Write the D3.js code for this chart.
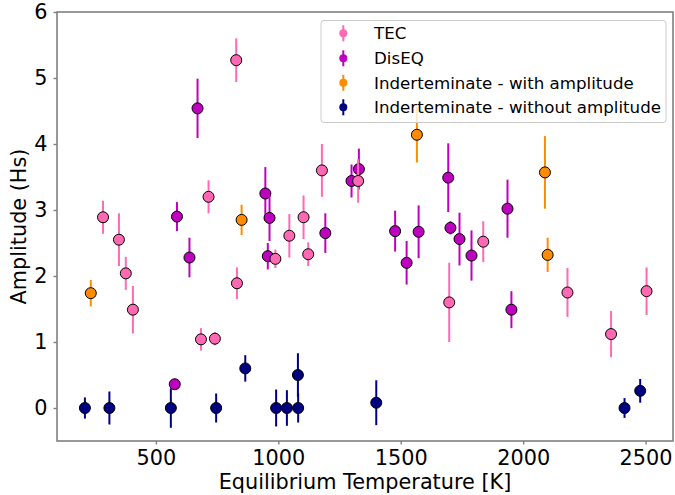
<!DOCTYPE html>
<html><head><meta charset="utf-8">
<script src="https://cdn.jsdelivr.net/npm/d3@7"></script>
<style>body{margin:0;background:#fff}svg{display:block;font-family:"DejaVu Sans",sans-serif}</style>
</head><body>
<svg id="c" width="675" height="495"></svg>
<script>
// TEC
const tecTemp = [284, 349, 377, 406, 684, 741, 831, 828, 715, 1045, 1103, 988, 1122, 1178, 1326, 1837, 1698, 2181, 2359, 2504];
const tecAmp  = [2.89, 2.55, 2.04, 1.49, 1.04, 1.05, 1.89, 5.27, 3.20, 2.61, 2.89, 2.26, 2.33, 3.60, 3.44, 2.52, 1.60, 1.75, 1.12, 1.77];
const tecErr  = [0.25, 0.40, 0.25, 0.36, 0.17, 0.10, 0.24, 0.33, 0.25, 0.33, 0.33, 0.14, 0.18, 0.40, 0.33, 0.31, 0.60, 0.37, 0.35, 0.36];
// DisEQ
const diseqTemp = [670, 586, 947, 964, 957, 1192, 637, 577, 1299, 1329, 1694, 1936, 1477, 1573, 1703, 1740, 1524, 1789, 1952];
const diseqAmp  = [4.54, 2.90, 3.25, 2.88, 2.30, 2.65, 2.28, 0.36, 3.44, 3.62, 3.49, 3.02, 2.68, 2.67, 2.73, 2.56, 2.20, 2.31, 1.49];
const diseqErr  = [0.45, 0.22, 0.40, 0.35, 0.20, 0.30, 0.30, 0.05, 0.25, 0.31, 0.52, 0.44, 0.31, 0.40, 0.10, 0.40, 0.33, 0.38, 0.28];
// Indeterminate - with amplitude
const withTemp = [234, 850, 1566, 2089, 2100];
const withAmp  = [1.74, 2.85, 4.14, 3.57, 2.32];
const withErr  = [0.20, 0.23, 0.42, 0.55, 0.26];
// Indeterminate - without amplitude
const withoutTemp = [210, 310, 561, 746, 865, 991, 1035, 1080, 1081, 1400, 2414, 2478];
const withoutAmp  = [0, 0, 0, 0, 0.60, 0, 0, 0.50, 0, 0.08, 0, 0.26];
const withoutErr  = [0.16, 0.25, 0.30, 0.22, 0.20, 0.28, 0.27, 0.33, 0.22, 0.34, 0.15, 0.18];

const xTicks = [500, 1000, 1500, 2000, 2500];
const yTicks = [0, 1, 2, 3, 4, 5, 6];

const seriesNames = ["TEC", "DisEQ", "Inderteminate - with amplitude", "Inderteminate - without amplitude"];
const seriesColors = ["#ff69b4", "#bf00bf", "#ff8c00", "#000080"];

const series = [
  {name: seriesNames[0], color: seriesColors[0], t: tecTemp, a: tecAmp, e: tecErr},
  {name: seriesNames[1], color: seriesColors[1], t: diseqTemp, a: diseqAmp, e: diseqErr},
  {name: seriesNames[2], color: seriesColors[2], t: withTemp, a: withAmp, e: withErr},
  {name: seriesNames[3], color: seriesColors[3], t: withoutTemp, a: withoutAmp, e: withoutErr}
];

const svg = d3.select("#c");
const L = 57, R = 673, T = 12, B = 441;
const x = d3.scaleLinear().domain([96, 2612]).range([L, R]);
const y = d3.scaleLinear().domain([-0.5, 6]).range([B, T]);
const axisColor = "#808080";
const fs = "20.8px";

// axes
const gx = svg.append("g").attr("transform", `translate(0,${B})`)
  .call(d3.axisBottom(x).tickValues(xTicks).tickSize(3.5).tickPadding(6).tickFormat(d3.format("d")));
const gy = svg.append("g").attr("transform", `translate(${L},0)`)
  .call(d3.axisLeft(y).tickValues(yTicks).tickSize(3.5).tickPadding(6).tickFormat(d3.format("d")));
[gx, gy].forEach(g => {
  g.select(".domain").remove();
  g.selectAll(".tick line").attr("stroke", axisColor).attr("stroke-width", 1.4);
  g.selectAll(".tick text").attr("fill", "#000").style("font-size", fs).style("font-family", "DejaVu Sans");
});

// data: draw order navy, orange, purple, pink
const plot = svg.append("g");
[3, 2, 1, 0].forEach(si => {
  const s = series[si];
  const pts = s.t.map((t, i) => ({t, a: s.a[i], e: s.e[i]}));
  const g = plot.append("g");
  pts.forEach(p => {
    g.append("line").attr("x1", x(p.t)).attr("x2", x(p.t))
      .attr("y1", y(p.a - p.e)).attr("y2", y(p.a + p.e))
      .attr("stroke", s.color).attr("stroke-width", 2);
    g.append("circle").attr("cx", x(p.t)).attr("cy", y(p.a)).attr("r", 5.5)
      .attr("fill", s.color).attr("stroke", "#000").attr("stroke-width", 1);
  });
});

// frame
svg.append("rect").attr("x", L).attr("y", T).attr("width", R - L).attr("height", B - T)
  .attr("fill", "none").attr("stroke", axisColor).attr("stroke-width", 1.6);

// labels
svg.append("text").attr("x", (L + R) / 2).attr("y", 489).attr("text-anchor", "middle")
  .style("font-size", fs).text("Equilibrium Temperature [K]");
svg.append("text").attr("transform", `translate(26,${(T + B) / 2}) rotate(-90)`).attr("text-anchor", "middle")
  .style("font-size", fs).text("Amplitude (Hs)");

// legend
const lg = svg.append("g");
lg.append("rect").attr("x", 321).attr("y", 20.5).attr("width", 345).attr("height", 102).attr("rx", 3)
  .attr("fill", "#fff").attr("fill-opacity", 0.8).attr("stroke", "#cccccc").attr("stroke-width", 1);
const rowY = [33.3, 58.3, 82.8, 107.3];
series.forEach((s, i) => {
  const yy = rowY[i];
  lg.append("line").attr("x1", 343.3).attr("x2", 343.3).attr("y1", yy - 8).attr("y2", yy + 8)
    .attr("stroke", s.color).attr("stroke-width", 2);
  lg.append("circle").attr("cx", 343.3).attr("cy", yy).attr("r", 4).attr("fill", s.color);
  lg.append("text").attr("x", 374).attr("y", yy).attr("dy", "0.36em")
    .style("font-size", "16.67px").text(s.name);
});
</script>
</body></html>
